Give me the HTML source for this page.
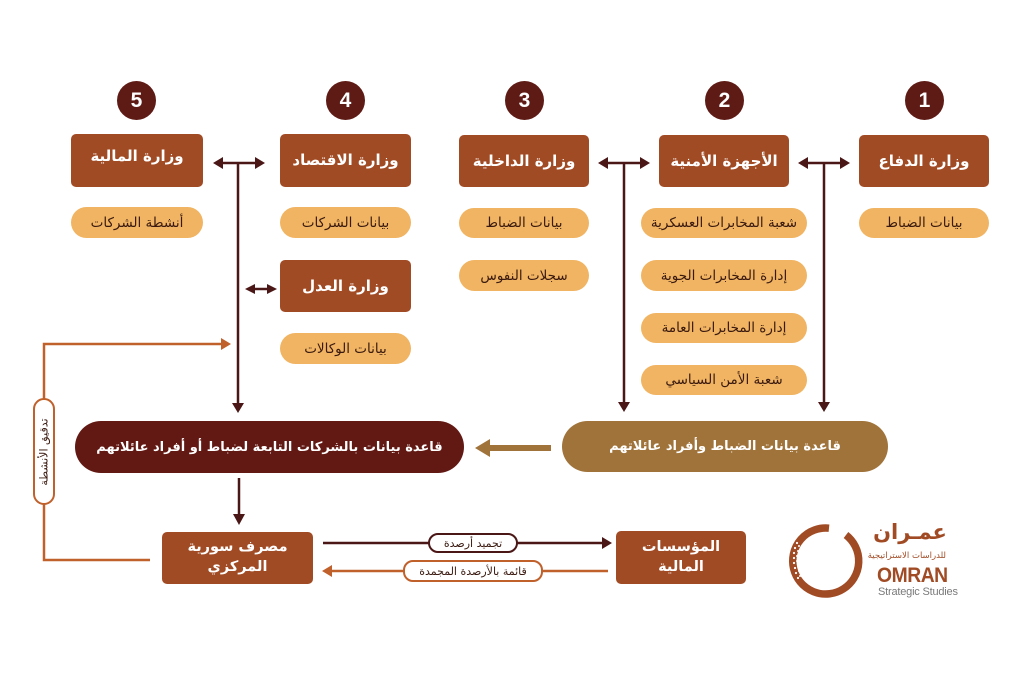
<!DOCTYPE html>
<html><head><meta charset="utf-8">
<style>
html,body{margin:0;padding:0;background:#fff;}
body{width:1024px;height:683px;position:relative;overflow:hidden;font-family:"DejaVu Sans","Liberation Sans",sans-serif;}
.b{position:absolute;background:#a14b25;color:#fff;border-radius:5px;display:flex;align-items:center;justify-content:center;font-weight:bold;font-size:15px;direction:rtl;text-align:center;line-height:1.35;}
.p{position:absolute;background:#f0b462;color:#3a1a10;border-radius:16px;display:flex;align-items:center;justify-content:center;font-size:13.5px;direction:rtl;white-space:nowrap;}
.c{position:absolute;width:39px;height:39px;border-radius:50%;background:#5e1a14;color:#fff;font-family:"Liberation Sans",sans-serif;font-weight:bold;font-size:21px;display:flex;align-items:center;justify-content:center;}
.big{position:absolute;border-radius:26px;color:#fff;display:flex;align-items:center;justify-content:center;font-size:13px;font-weight:bold;direction:rtl;white-space:nowrap;}
.lbl{position:absolute;background:#fff;border-radius:10px;display:flex;align-items:center;justify-content:center;font-size:11px;color:#3a1a10;direction:rtl;white-space:nowrap;box-sizing:border-box;}
svg{position:absolute;left:0;top:0;}
</style></head><body>
<svg width="1024" height="683" viewBox="0 0 1024 683">
<g stroke="#4a1616" stroke-width="2.5" fill="none">
<line x1="221" y1="163" x2="257" y2="163"/>
<line x1="238" y1="163" x2="238" y2="405"/>
<line x1="253" y1="289" x2="269" y2="289"/>
<line x1="606" y1="163" x2="642" y2="163"/>
<line x1="624" y1="163" x2="624" y2="404"/>
<line x1="806" y1="163" x2="842" y2="163"/>
<line x1="824" y1="163" x2="824" y2="404"/>
<line x1="239" y1="478" x2="239" y2="516"/>
<line x1="323" y1="543" x2="603" y2="543"/>
</g>
<g fill="#4a1616">
<polygon points="213,163 223,157 223,169"/>
<polygon points="265,163 255,157 255,169"/>
<polygon points="245,289 255,284 255,294"/>
<polygon points="277,289 267,284 267,294"/>
<polygon points="598,163 608,157 608,169"/>
<polygon points="650,163 640,157 640,169"/>
<polygon points="798,163 808,157 808,169"/>
<polygon points="850,163 840,157 840,169"/>
<polygon points="238,413 232,403 244,403"/>
<polygon points="624,412 618,402 630,402"/>
<polygon points="824,412 818,402 830,402"/>
<polygon points="239,525 233,514 245,514"/>
<polygon points="612,543 602,537 602,549"/>
</g>
<g stroke="#c0602b" stroke-width="2.5" fill="none">
<polyline points="150,560 44,560 44,344 222,344"/>
<line x1="608" y1="571" x2="331" y2="571"/>
</g>
<g fill="#c0602b">
<polygon points="231,344 221,338 221,350"/>
<polygon points="322,571 332,565 332,577"/>
</g>
<line x1="551" y1="448" x2="486" y2="448" stroke="#a0733a" stroke-width="6"/>
<polygon points="475,448 490,439 490,457" fill="#a0733a"/>
<!-- logo ring -->
<path d="M 829 528.2 A 33 33 0 1 0 846 535" stroke="#a14b25" stroke-width="7.5" fill="none"/>
<g fill="#fff">
<circle cx="797" cy="543" r="1.1"/><circle cx="795" cy="548" r="1.1"/><circle cx="794" cy="553" r="1.1"/><circle cx="794" cy="558" r="1.1"/><circle cx="794" cy="563" r="1.1"/><circle cx="795" cy="568" r="1.1"/><circle cx="796" cy="573" r="1.1"/><circle cx="798" cy="578" r="1.1"/>
<circle cx="799" cy="546" r="1"/><circle cx="798" cy="551" r="1"/><circle cx="797" cy="556" r="1"/><circle cx="797" cy="561" r="1"/><circle cx="798" cy="566" r="1"/><circle cx="799" cy="571" r="1"/><circle cx="800" cy="576" r="1"/>
</g>
</svg>

<div class="c" style="left:117px;top:81px;">5</div>
<div class="c" style="left:326px;top:81px;">4</div>
<div class="c" style="left:505px;top:81px;">3</div>
<div class="c" style="left:705px;top:81px;">2</div>
<div class="c" style="left:905px;top:81px;">1</div>

<div class="b" style="left:71px;top:134px;width:132px;height:53px;align-items:flex-start;"><span style="margin-top:12px">وزارة المالية</span></div>
<div class="b" style="left:280px;top:134px;width:131px;height:53px;">وزارة الاقتصاد</div>
<div class="b" style="left:459px;top:135px;width:130px;height:52px;">وزارة الداخلية</div>
<div class="b" style="left:659px;top:135px;width:130px;height:52px;">الأجهزة الأمنية</div>
<div class="b" style="left:859px;top:135px;width:130px;height:52px;">وزارة الدفاع</div>
<div class="b" style="left:280px;top:260px;width:131px;height:52px;">وزارة العدل</div>

<div class="p" style="left:71px;top:207px;width:132px;height:31px;">أنشطة الشركات</div>
<div class="p" style="left:280px;top:207px;width:131px;height:31px;">بيانات الشركات</div>
<div class="p" style="left:280px;top:333px;width:131px;height:31px;">بيانات الوكالات</div>
<div class="p" style="left:459px;top:208px;width:130px;height:30px;">بيانات الضباط</div>
<div class="p" style="left:459px;top:260px;width:130px;height:31px;">سجلات النفوس</div>
<div class="p" style="left:641px;top:208px;width:166px;height:30px;">شعبة المخابرات العسكرية</div>
<div class="p" style="left:641px;top:260px;width:166px;height:31px;">إدارة المخابرات الجوية</div>
<div class="p" style="left:641px;top:313px;width:166px;height:30px;">إدارة المخابرات العامة</div>
<div class="p" style="left:641px;top:365px;width:166px;height:30px;">شعبة الأمن السياسي</div>
<div class="p" style="left:859px;top:208px;width:130px;height:30px;">بيانات الضباط</div>

<div class="big" style="left:75px;top:421px;width:389px;height:52px;background:#621913;">قاعدة بيانات بالشركات التابعة لضباط أو أفراد عائلاتهم</div>
<div class="big" style="left:562px;top:421px;width:326px;height:51px;background:#a0733a;">قاعدة بيانات الضباط وأفراد عائلاتهم</div>

<div class="b" style="left:162px;top:532px;width:151px;height:52px;font-size:14.5px;">مصرف سورية<br>المركزي</div>
<div class="b" style="left:616px;top:531px;width:130px;height:53px;font-size:14.5px;">المؤسسات<br>المالية</div>

<div class="lbl" style="left:428px;top:533px;width:90px;height:20px;border:2px solid #4a1616;">تجميد أرصدة</div>
<div class="lbl" style="left:403px;top:560px;width:140px;height:22px;border:2px solid #c0602b;">قائمة بالأرصدة المجمدة</div>

<div style="position:absolute;left:33px;top:398px;width:22px;height:107px;box-sizing:border-box;border:2px solid #c0602b;border-radius:11px;background:#fff;"></div>
<div style="position:absolute;left:-10px;top:441px;width:107px;height:22px;display:flex;align-items:center;justify-content:center;transform:rotate(-90deg);font-size:11px;color:#3a1a10;direction:rtl;white-space:nowrap;">تدقيق الأنشطة</div>

<div style="position:absolute;left:872px;top:516px;width:76px;text-align:center;color:#a14b25;font-size:21px;font-weight:bold;direction:rtl;line-height:32px;">عمـران</div>
<div style="position:absolute;left:874px;top:550px;width:72px;text-align:center;color:#a14b25;font-size:8.5px;direction:rtl;white-space:nowrap;line-height:12px;">للدراسات الاستراتيجية</div>
<div style="position:absolute;left:877px;top:564px;color:#a14b25;font-family:'Liberation Sans',sans-serif;font-weight:bold;font-size:21px;line-height:24px;letter-spacing:-0.5px;transform:scaleX(0.92);transform-origin:left;">OMRAN</div>
<div style="position:absolute;left:878px;top:585px;color:#7a7a7a;font-family:'Liberation Sans',sans-serif;font-size:11px;line-height:14px;letter-spacing:-0.2px;">Strategic Studies</div>
</body></html>
